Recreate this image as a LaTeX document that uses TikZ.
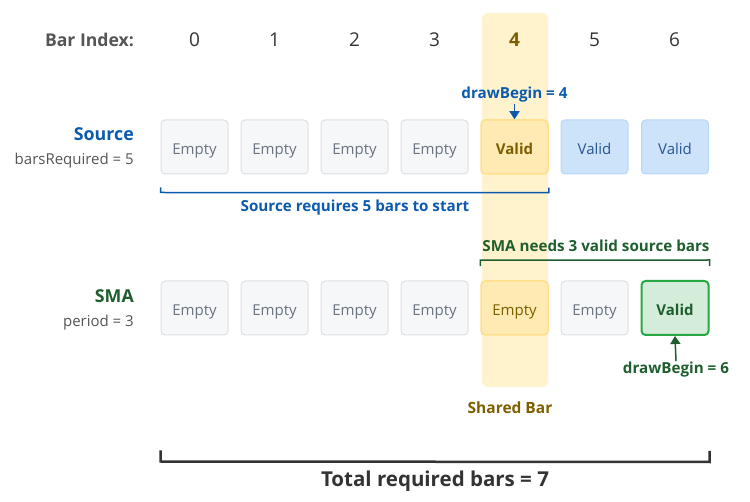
\documentclass[tikz,border=0pt]{standalone}
\usepackage{fontspec}
\setmainfont{Open Sans}
\usetikzlibrary{arrows.meta}
\definecolor{srcB}{HTML}{0B5AAE}
\definecolor{smaG}{HTML}{1E5E2E}
\definecolor{shrO}{HTML}{7D5E00}
\definecolor{hdrT}{HTML}{555555}
\definecolor{idxT}{HTML}{333333}
\definecolor{emptyF}{HTML}{F6F7F9}
\definecolor{emptyD}{HTML}{DDE0E4}
\definecolor{emptyT}{HTML}{6B7280}
\definecolor{shareF}{HTML}{FFF3CD}
\definecolor{yelF}{HTML}{FFEAB3}
\definecolor{yelD}{HTML}{FFDF8C}
\definecolor{bluF}{HTML}{CCE3FA}
\definecolor{bluD}{HTML}{B8D7F7}
\definecolor{bluT}{HTML}{2A5591}
\definecolor{grnF}{HTML}{D4EDDA}
\definecolor{grnD}{HTML}{28A745}

\begin{document}
\begin{tikzpicture}[x=1pt,y=-1pt,>={Triangle[length=8pt,width=10pt]},
  bar/.style={draw=emptyD,fill=emptyF,line width=1pt,rounded corners=4pt,
    minimum width=67pt,minimum height=54pt,inner sep=0pt,text height=16pt,text depth=0pt,
    font=\fontsize{15}{18}\selectfont,text=emptyT},
  yelbar/.style={bar,draw=yelD,fill=yelF,line width=1.5pt,text=shrO},
  blubar/.style={bar,draw=bluD,fill=bluF,text=bluT},
  grnbar/.style={bar,draw=grnD,fill=grnF,line width=2pt,text=smaG,font=\fontsize{15}{18}\selectfont\bfseries},
  idx/.style={font=\fontsize{19}{22}\selectfont,text=idxT},
  rowname/.style={anchor=east,inner sep=0pt,font=\fontsize{17.8}{21}\selectfont\bfseries},
  rowsub/.style={anchor=east,inner sep=0pt,font=\fontsize{15}{18}\selectfont,text=hdrT},
  note/.style={font=\fontsize{15.2}{18}\selectfont\bfseries,inner sep=1pt}]
\useasboundingbox (0,0) rectangle (750,502);
% shared column behind bar 4
\fill[shareF,rounded corners=6pt] (482,13) rectangle (548,387);
% header
\node[anchor=east,inner sep=0pt,font=\fontsize{17.6}{21}\selectfont\bfseries,text=hdrT] (hdr) at (134,40) {Bar Index:};
\foreach \i in {0,1,2,3,5,6}
  \node[idx] (idx\i) at (194.5+80*\i,40) {\i};
\node[idx,font=\fontsize{19}{22}\selectfont\bfseries,text=shrO] (idx4) at (514.5,40) {4};
% source row
\node[rowname,text=srcB] (srcname) at (134,134) {Source};
\node[rowsub] (srcsub) at (134,161) {barsRequired = 5};
\foreach \i in {0,...,3}
  \node[bar] (src\i) at (194.5+80*\i,147) {Empty};
\node[yelbar,font=\fontsize{15}{18}\selectfont\bfseries] (src4) at (514.5,147) {Valid};
\node[blubar] (src5) at (594.5,147) {Valid};
\node[blubar] (src6) at (675,147) {Valid};
\node[note,text=srcB] (dbsrc) at (514.5,95) {drawBegin = 4};
\draw[->,srcB,line width=1.5pt] (dbsrc.south) -- (src4.north);
% bracket under source
\draw[srcB,line width=1.5pt] ([yshift=-13pt]src0.south west) -- ([yshift=-18pt]src0.south west)
  -- ([yshift=-18pt]src4.south east) -- ([yshift=-13pt]src4.south east);
\node[note,text=srcB] (srcreq) at (355,208) {Source requires 5 bars to start};
% sma row
\node[rowname,text=smaG] (smaname) at (134,296) {SMA};
\node[rowsub] (smasub) at (134,323) {period = 3};
\foreach \i in {0,1,2,3,5}
  \node[bar] (sma\i) at (194.5+80*\i,308) {Empty};
\node[yelbar] (sma4) at (514.5,308) {Empty};
\node[grnbar] (sma6) at (675,308) {Valid};
\draw[smaG,line width=1.5pt] ([yshift=14pt]sma4.north west) -- ([yshift=20pt]sma4.north west)
  -- ([yshift=20pt]sma6.north east) -- ([yshift=14pt]sma6.north east);
\node[note,text=smaG] (smareq) at (596,246) {SMA needs 3 valid source bars};
\node[note,text=smaG] (dbsma) at (676,370) {drawBegin = 6};
\draw[->,smaG,line width=1.5pt] (dbsma.north) -- (sma6.south);
\node[font=\fontsize{15.5}{18}\selectfont\bfseries,text=shrO] (shared) at (510,408) {Shared Bar};
% total bracket
\draw[idxT,line width=2.5pt] ([yshift=-115pt]sma0.south west) -- ([yshift=-126pt]sma0.south west)
  -- ([yshift=-126pt]sma6.south east) -- ([yshift=-115pt]sma6.south east);
\node[font=\fontsize{20.5}{24}\selectfont\bfseries,text=idxT] (total) at (435,481) {Total required bars = 7};
\end{tikzpicture}
\end{document}
